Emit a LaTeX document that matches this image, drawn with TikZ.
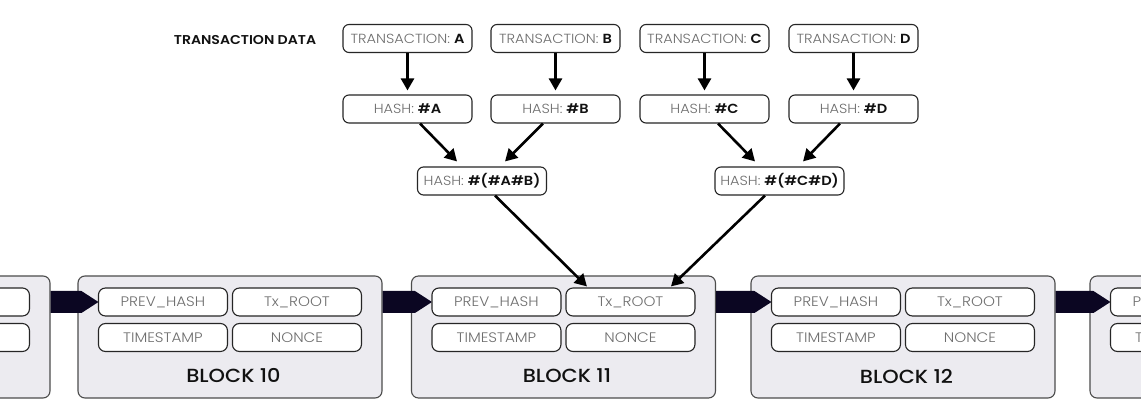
\documentclass[tikz,border=0pt]{standalone}
\usepackage{fontspec}
\setmainfont{Poppins}[FakeStretch=1.1, BoldFont={* SemiBold}]
\newfontfamily\lightfont{Poppins Light}[FakeStretch=1.1, BoldFont={Poppins SemiBold}]
\newfontfamily\medfont{Poppins Medium}[FakeStretch=1.1]
\usetikzlibrary{arrows.meta,calc}
\definecolor{lbl}{HTML}{6E6E6E}
\definecolor{keyc}{HTML}{111111}
\definecolor{blockfill}{HTML}{ECEBF0}
\definecolor{chain}{HTML}{0B0622}
\newcommand\keyt[1]{\textcolor{keyc}{\bfseries #1}}
\begin{document}
\begin{tikzpicture}[x=1pt,y=-1pt,
  txbox/.style={draw=black!85, line width=1.1pt, rounded corners=6pt, fill=white,
    minimum width=129pt, minimum height=28pt, inner sep=0pt,
    font=\lightfont\fontsize{13.2}{15}\selectfont, text=lbl},
  field/.style={draw=black!85, line width=1.1pt, rounded corners=7pt, fill=white,
    minimum width=129pt, minimum height=28pt, inner sep=0pt,
    font=\lightfont\fontsize{13.8}{15}\selectfont, text=lbl},
  block/.style={draw=black!70, line width=1.1pt, fill=blockfill, rounded corners=7pt,
    minimum width=304pt, minimum height=122pt, inner sep=0pt},
  blabel/.style={font=\medfont\fontsize{19}{21}\selectfont, text=keyc, inner sep=0pt},
  arr/.style={line width=2.6pt, -{Triangle[length=12pt,width=13pt]}},
  chainarrow/.style={fill=chain}
]
\useasboundingbox (0,0) rectangle (1141,411);
\fill[white] (0,0) rectangle (1141,411);
\clip (0,0) rectangle (1141,411);

% title
\node[font=\fontsize{12.8}{14}\selectfont\bfseries, text=keyc, inner sep=0pt] (title) at (245,40) {TRANSACTION DATA};

% transactions
\node[txbox] (tA) at (407.5,38.5) {TRANSACTION: \keyt{A}};
\node[txbox] (tB) at (555.5,38.5) {TRANSACTION: \keyt{B}};
\node[txbox] (tC) at (704.5,38.5) {TRANSACTION: \keyt{C}};
\node[txbox] (tD) at (853.5,38.5) {TRANSACTION: \keyt{D}};

\node[txbox] (hA) at (407.5,109) {HASH: \keyt{\#A}};
\node[txbox] (hB) at (555.5,109) {HASH: \keyt{\#B}};
\node[txbox] (hC) at (704.5,109) {HASH: \keyt{\#C}};
\node[txbox] (hD) at (853.5,109) {HASH: \keyt{\#D}};

\node[txbox] (hAB) at (482,181) {HASH: \keyt{\#(\#A\#B)}};
\node[txbox] (hCD) at (779.5,181) {HASH: \keyt{\#(\#C\#D)}};

% blocks
\foreach \n/\cx in {9/-102,10/230,11/563.5,12/903,13/1242}{
  \node[block] (b\n) at (\cx,337) {};
}
\node[blabel] (l10) at ($(b10.west)+(156,39)$) {BLOCK 10};
\node[blabel] (l11) at ($(b11.west)+(156,39)$) {BLOCK 11};
\node[blabel] (l12) at ($(b12.west)+(156,39)$) {BLOCK 12};

% chain arrows
\foreach \n in {9,10,11,12,13}{
  \coordinate (pp\n) at ($(b\n.west)+(85.5,-35)$);
}
\foreach \a/\b in {9/10,10/11,11/12,12/13}{
  \fill[chainarrow] ($(b\a.east|-pp\b)+(0,-11)$) -- ($(pp\b)+(-81.5,-11)$)
     -- ($(pp\b)+(-64.5,0)$) -- ($(pp\b)+(-81.5,11)$) -- ($(b\a.east|-pp\b)+(0,11)$) -- cycle;
}

% fields
\foreach \n in {9}{
  \node[field] (p\n) at (pp\n) {};
  \node[field] (x\n) at ($(b\n.west)+(219.5,-35)$) {};
  \node[field] (s\n) at ($(b\n.west)+(85.5,0.5)$) {};
  \node[field] (o\n) at ($(b\n.west)+(219.5,0.5)$) {};
}
\foreach \n in {10,11,12}{
  \node[field] (p\n) at (pp\n) {PREV\_HASH};
  \node[field] (x\n) at ($(b\n.west)+(219.5,-35)$) {Tx\_ROOT};
  \node[field] (s\n) at ($(b\n.west)+(85.5,0.5)$) {TIMESTAMP};
  \node[field] (o\n) at ($(b\n.west)+(219.5,0.5)$) {NONCE};
}
\node[field] (p13) at (pp13) {PREV\_HASH};
\node[field] (s13) at ($(b13.west)+(85.5,0.5)$) {TIMESTAMP};

% merkle arrows
\draw[arr, shorten >=4pt] (tA) -- (hA);
\draw[arr, shorten >=4pt] (tB) -- (hB);
\draw[arr, shorten >=4pt] (tC) -- (hC);
\draw[arr, shorten >=4pt] (tD) -- (hD);

\draw[arr] ([xshift=12.5pt]hA.south) -- ([xshift=-25pt,yshift=5pt]hAB.north);
\draw[arr] ([xshift=-12.5pt]hB.south) -- ([xshift=23pt,yshift=5pt]hAB.north);
\draw[arr] ([xshift=13.5pt]hC.south) -- ([xshift=-24.5pt,yshift=5pt]hCD.north);
\draw[arr] ([xshift=-13.5pt]hD.south) -- ([xshift=23.5pt,yshift=5pt]hCD.north);

\draw[arr] ([xshift=13pt]hAB.south) -- ([xshift=-43.5pt,yshift=1pt]x11.north);
\draw[arr] ([xshift=-14.5pt]hCD.south) -- ([xshift=40.5pt,yshift=1pt]x11.north);
\end{tikzpicture}
\end{document}
